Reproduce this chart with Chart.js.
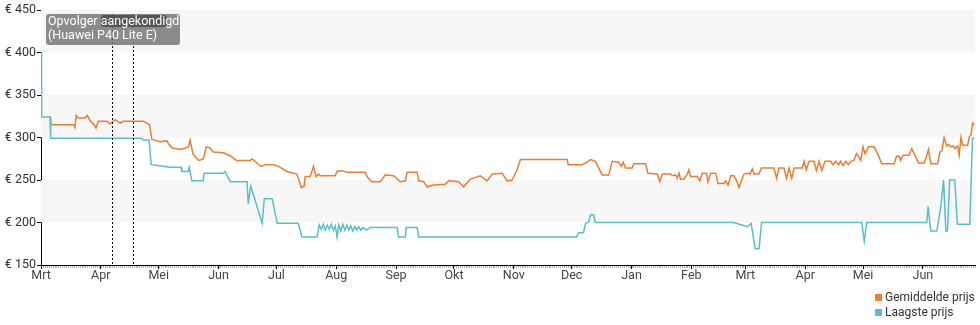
<!DOCTYPE html>
<html lang="nl">
<head>
<meta charset="utf-8">
<title>Prijsverloop</title>
<script src="https://cdn.jsdelivr.net/npm/chart.js@4/dist/chart.umd.min.js"></script>
<style>
  html, body { margin: 0; padding: 0; background: #fff; }
  #wrap { position: relative; width: 980px; height: 325px; font-family: Roboto, sans-serif; }
  #legenda { position: absolute; left: 875px; top: 290px; font-size: 12px; color: #333; line-height: 15px; }
  #legenda span.blok { display: inline-block; width: 7px; height: 7px; margin-right: 3px; }
</style>
</head>
<body>
<div id="wrap">
  <canvas id="prijsChart" width="980" height="325"></canvas>
  <div id="legenda">
    <div><span class="blok" style="background:#ed7d31"></span>Gemiddelde prijs</div>
    <div><span class="blok" style="background:#5bbec6"></span>Laagste prijs</div>
  </div>
</div>
<script>
// Maanden op de x-as (dagen vanaf 1 maart)
var maanden = ['Mrt', 'Apr', 'Mei', 'Jun', 'Jul', 'Aug', 'Sep', 'Okt', 'Nov', 'Dec', 'Jan', 'Feb', 'Mrt', 'Apr', 'Mei', 'Jun'];
var maandStart = [0, 31, 61, 92, 122, 153, 184, 214, 245, 275, 306, 337, 365, 396, 426, 457];
var laatsteDag = 484;
var yWaarden = [150, 200, 250, 300, 350, 400, 450];

// Gemiddelde prijs
var gemDag = [4.8, 5.2, 17.1, 17.6, 18.2, 19.2, 22.8, 24.0, 25.4, 27.5, 28.5, 29.7, 34.1, 35.8, 38.4, 41.0, 42.5, 52.9, 54.8, 56.2,
  57.4, 61.7, 65.2, 66.0, 67.8, 72.1, 76.4, 77.3, 78.7, 80.8, 82.0, 84.2, 85.6, 87.3, 89.4, 94.6, 98.4, 100.6, 101.5, 108.4,
  109.4, 111.9, 113.9, 116.2, 120.5, 123.1, 127.4, 132.6, 134.9, 136.4, 136.9, 139.5, 141.2, 142.6, 143.8, 144.7, 152.5, 153.4, 156.0, 158.6,
  168.0, 168.9, 171.5, 175.8, 178.4, 182.7, 186.2, 188.8, 189.7, 194.9, 195.7, 198.3, 200.1, 203.5, 209.5, 211.3, 216.4, 219.0, 222.5, 227.7,
  231.2, 233.8, 239.0, 241.5, 244.1, 246.7, 248.4, 272.7, 273.2, 280.4, 282.2, 284.8, 287.3, 290.8, 294.2, 296.0, 299.4, 300.7, 301.7, 302.9,
  306.4, 307.2, 313.3, 314.5, 319.3, 320.7, 321.9, 326.2, 327.1, 328.8, 329.7, 330.6, 331.4, 333.2, 334.9, 335.7, 336.6, 340.1, 341.4, 342.7,
  344.9, 345.6, 347.0, 349.6, 350.8, 353.9, 354.8, 356.0, 357.4, 359.1, 360.5, 361.7, 362.9, 364.3, 366.0, 367.4, 368.6, 369.5, 372.0, 373.3,
  379.8, 381.2, 382.4, 385.0, 386.3, 387.6, 389.0, 390.2, 394.5, 395.4, 396.6, 398.0, 400.6, 401.8, 403.2, 404.6, 406.3, 409.2, 410.4, 411.8,
  413.2, 414.4, 415.6, 417.0, 418.4, 419.6, 421.3, 422.6, 423.9, 424.8, 426.0, 427.0, 428.8, 431.7, 433.5, 435.7, 442.1, 443.3, 444.7, 445.5,
  446.7, 449.8, 451.2, 452.9, 454.7, 457.6, 458.8, 459.9, 461.1, 464.6, 465.8, 466.8, 468.0, 469.3, 470.3, 471.5, 472.7, 473.7, 475.0, 475.8,
  476.7, 477.6, 480.2, 481.1, 481.9, 482.8, 483.6];
var gemPrijs = [325, 315, 315, 312, 326, 323, 323, 326, 320, 315, 311, 319, 319, 316, 321, 317, 319, 319, 317, 315,
  298, 295, 296, 293, 288, 286, 289, 297, 281, 275, 273, 275, 289, 288, 283, 282, 278, 274, 273, 273,
  275, 270, 266, 268, 268, 266, 260, 257, 241, 243, 254, 254, 266, 254, 257, 255, 255, 260, 261, 259,
  259, 254, 248, 248, 256, 255, 248, 249, 259, 259, 249, 248, 242, 244, 245, 249, 248, 242, 251, 255,
  249, 257, 258, 249, 250, 262, 274, 274, 268, 268, 270, 274, 272, 256, 256, 272, 271, 266, 271, 264,
  264, 269, 269, 258, 257, 248, 257, 257, 255, 256, 252, 258, 251, 251, 257, 262, 254, 254, 249, 258,
  258, 248, 258, 258, 246, 246, 249, 244, 255, 255, 249, 241, 249, 257, 258, 257, 263, 257, 257, 264,
  264, 252, 264, 264, 252, 264, 252, 264, 264, 272, 262, 272, 272, 261, 272, 261, 272, 272, 268, 272,
  268, 272, 267, 272, 268, 272, 273, 281, 277, 273, 289, 281, 289, 289, 281, 269, 269, 278, 278, 273,
  279, 279, 287, 279, 270, 270, 277, 286, 269, 269, 283, 284, 300, 290, 292, 289, 290, 287, 290, 279,
  300, 291, 291, 301, 303, 317, 315];

// Laagste prijs
var laagDag = [0, 0.3, 4.7, 5.0, 52.2, 52.9, 56.0, 57.1, 66.9, 72.6, 73.0, 76.2, 76.8, 78.2, 84.0, 84.5, 94.4, 95.4, 98.0, 106.8,
  107.4, 108.7, 114.6, 115.7, 119.8, 122.4, 133.3, 135.2, 143.0, 144.2, 145.2, 146.3, 147.3, 148.4, 149.4, 150.4, 151.5, 152.5, 153.4, 154.3,
  155.3, 156.4, 157.4, 158.5, 159.5, 160.5, 161.6, 162.6, 163.6, 164.7, 165.7, 167.0, 168.6, 170.6, 184.6, 185.3, 188.8, 189.3, 194.9, 195.7,
  277.5, 278.5, 281.1, 282.2, 283.7, 284.8, 286.3, 287.3, 358.9, 366.0, 368.0, 370.1, 372.1, 373.4, 425.3, 426.6, 427.9, 459.0, 459.7, 461.1,
  464.2, 466.3, 467.7, 468.9, 469.7, 470.9, 473.5, 474.9, 481.3, 482.7, 483.6];
var laagPrijs = [400, 324, 324, 299, 299, 297, 297, 268, 265, 265, 260, 260, 265, 249, 249, 258, 258, 260, 248, 248,
  222, 243, 199, 228, 228, 199, 199, 183, 183, 197, 192, 198, 191, 197, 192, 198, 191, 196, 183, 197,
  190, 198, 191, 197, 191, 196, 190, 195, 191, 195, 191, 194, 191, 194, 194, 183, 183, 194, 194, 183,
  183, 188, 188, 199, 200, 209, 209, 200, 200, 195, 199, 169, 169, 200, 200, 178, 200, 200, 219, 190,
  190, 219, 250, 190, 190, 250, 250, 198, 198, 299, 299];

// Moment waarop de opvolger werd aangekondigd
var opvolgerDagen = [36.8, 47.7];
var opvolgerTekst = ['Opvolger aangekondigd', '(Huawei P40 Lite E)'];

function punten(dagen, prijzen) {
  return dagen.map(function (d, i) { return { x: d, y: prijzen[i] }; });
}

// Grijze banden, dagstreepjes op de x-as en de aankondiging
var achtergrond = {
  id: 'achtergrond',
  beforeDatasetsDraw: function (chart) {
    var ctx = chart.ctx, area = chart.chartArea, y = chart.scales.y;
    ctx.save();
    ctx.fillStyle = '#f7f7f7';
    [[200, 250], [300, 350], [400, 450]].forEach(function (b) {
      var top = y.getPixelForValue(b[1]), bot = y.getPixelForValue(b[0]);
      ctx.fillRect(area.left, top, area.right - area.left, bot - top);
    });
    ctx.restore();
  },
  afterDatasetsDraw: function (chart) {
    var ctx = chart.ctx, area = chart.chartArea, x = chart.scales.x;
    ctx.save();
    // dagstreepjes
    ctx.strokeStyle = 'rgba(0,0,0,0.3)';
    ctx.lineWidth = 1;
    ctx.beginPath();
    for (var d = 0; d <= laatsteDag; d++) {
      var px = Math.round(x.getPixelForValue(d)) + 0.5;
      ctx.moveTo(px, area.bottom + 1);
      ctx.lineTo(px, area.bottom + 3);
    }
    ctx.stroke();

    // gestippelde lijnen
    ctx.strokeStyle = '#000';
    ctx.setLineDash([2, 2]);
    opvolgerDagen.forEach(function (d) {
      var px = Math.round(x.getPixelForValue(d)) + 0.5;
      ctx.beginPath();
      ctx.moveTo(px, area.top + 4);
      ctx.lineTo(px, area.bottom);
      ctx.stroke();
    });
    ctx.setLineDash([]);

    // label
    var bx = area.left + 5, by = area.top + 4;
    ctx.fillStyle = 'rgba(120,120,120,0.85)';
    ctx.beginPath();
    ctx.roundRect(bx, by, 134, 31, 3);
    ctx.fill();
    ctx.fillStyle = 'rgba(70,70,70,0.75)';
    ctx.beginPath();
    ctx.roundRect(bx + 55, by + 1, 66, 12, 3);
    ctx.fill();
    ctx.fillStyle = '#fff';
    ctx.font = '12.5px Roboto';
    ctx.textBaseline = 'alphabetic';
    ctx.fillText(opvolgerTekst[0], bx + 2, by + 11);
    ctx.fillText(opvolgerTekst[1], bx + 2, by + 25);
    ctx.restore();
  }
};

Chart.defaults.font.family = 'Roboto';
Chart.defaults.font.size = 12;
Chart.defaults.color = '#333';

var ctx = document.getElementById('prijsChart').getContext('2d');
var prijsChart = new Chart(ctx, {
  type: 'line',
  data: {
    datasets: [{
      label: 'Laagste prijs',
      data: punten(laagDag, laagPrijs),
      borderColor: '#5bbec6',
      backgroundColor: '#5bbec6',
      borderWidth: 1.5,
      pointRadius: 0,
      tension: 0,
      order: 1
    }, {
      label: 'Gemiddelde prijs',
      data: punten(gemDag, gemPrijs),
      borderColor: '#ed7d31',
      backgroundColor: '#ed7d31',
      borderWidth: 1.5,
      pointRadius: 0,
      tension: 0,
      order: 2
    }]
  },
  options: {
    responsive: false,
    animation: false,
    devicePixelRatio: 1,
    layout: { padding: { top: 10, right: 5, left: 0, bottom: 0 } },
    plugins: { legend: { display: false }, tooltip: { enabled: false } },
    scales: {
      x: {
        type: 'linear',
        min: 0,
        max: laatsteDag,
        afterBuildTicks: function (scale) {
          scale.ticks = maandStart.map(function (v) { return { value: v }; });
        },
        afterFit: function (scale) { scale.height = 60; },
        ticks: {
          autoSkip: false,
          maxRotation: 0,
          padding: -1,
          color: '#444',
          font: { size: 12.5 },
          callback: function (v) { return maanden[maandStart.indexOf(v)]; }
        },
        grid: { drawOnChartArea: false, drawTicks: true, tickLength: 4, color: '#000' },
        border: { display: true, color: '#000', width: 1 }
      },
      y: {
        min: 150,
        max: 450,
        afterBuildTicks: function (scale) {
          scale.ticks = yWaarden.map(function (v) { return { value: v }; });
        },
        afterFit: function (scale) { scale.width = 41; },
        ticks: {
          padding: 1,
          color: '#333',
          font: { size: 12.5 },
          callback: function (v) { return '€ ' + v; }
        },
        grid: { drawOnChartArea: false, drawTicks: true, tickLength: 4, color: '#000' },
        border: { display: true, color: '#000', width: 1 }
      }
    }
  },
  plugins: [achtergrond]
});
</script>
</body>
</html>
